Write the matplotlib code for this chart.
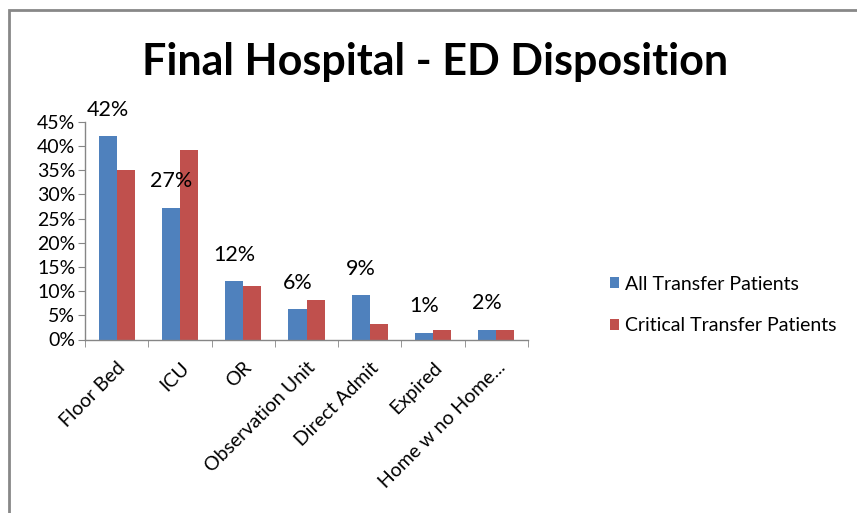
import matplotlib
matplotlib.use("Agg")
import matplotlib.pyplot as plt
import numpy as np
from matplotlib.patches import Rectangle

categories = ["Floor Bed", "ICU", "OR", "Observation Unit", "Direct Admit", "Expired", "Home w no Home..."]
all_transfer = [42.0, 27.2, 12.1, 6.3, 9.2, 1.4, 2.0]
critical_transfer = [35.0, 39.1, 11.0, 8.2, 3.2, 2.0, 2.0]
series_names = ["All Transfer Patients", "Critical Transfer Patients"]
yticks = [0, 5, 10, 15, 20, 25, 30, 35, 40, 45]

plt.rcParams['font.family'] = ['Lato', 'DejaVu Sans']

fig = plt.figure(figsize=(8.57, 5.13), dpi=100)
ax = fig.add_axes([85/857, 1-339.5/513, (528-85)/857, (339.5-121.7)/513])

x = np.arange(len(categories))
w = 0.285
blue = "#4F81BD"
red = "#C0504D"
b1 = ax.bar(x - w/2, all_transfer, w, color=blue, label=series_names[0])
b2 = ax.bar(x + w/2, critical_transfer, w, color=red, label=series_names[1])

for xi, v in zip(x, all_transfer):
    ax.annotate(f"{round(v)}%", (xi - w/2, v), xytext=(0, 19), textcoords="offset points",
                ha="center", va="center", fontsize=15.5)

ax.set_xlim(-0.5, len(categories) - 0.5)
ax.set_ylim(0, 45)
ax.set_yticks(yticks)
ax.set_yticklabels([f"{t}%" for t in yticks], fontsize=14)
ax.set_xticks(x)
ax.set_xticklabels(categories, rotation=45, ha="right", rotation_mode="anchor", fontsize=14)
ax.tick_params(axis="x", which="major", length=0, pad=14)
ax.set_xticks(np.arange(-0.5, len(categories), 1), minor=True)
ax.tick_params(axis="x", which="minor", length=5, color="#868686", direction="out")
ax.tick_params(axis="y", which="major", length=5, color="#868686", direction="out", pad=2)

for s in ["top", "right"]:
    ax.spines[s].set_visible(False)
for s in ["left", "bottom"]:
    ax.spines[s].set_color("#868686")
    ax.spines[s].set_linewidth(1)

fig.text(435/857, 1-62/513, "Final Hospital - ED Disposition", ha="center", va="center",
         fontsize=31, fontweight="bold")

leg = fig.legend(handles=[b1, b2], labels=series_names, loc="center left",
                 bbox_to_anchor=(592/857, 1-305/513), frameon=False, fontsize=14,
                 handlelength=0.5, handleheight=0.5, handletextpad=0.3, labelspacing=1.25)

fig.patches.append(Rectangle((9/857, -0.2), 1.5, 1.2 - 10/513, transform=fig.transFigure,
                             fill=False, edgecolor="#888888", linewidth=2, zorder=0))

fig.savefig("out.png", dpi=100)
